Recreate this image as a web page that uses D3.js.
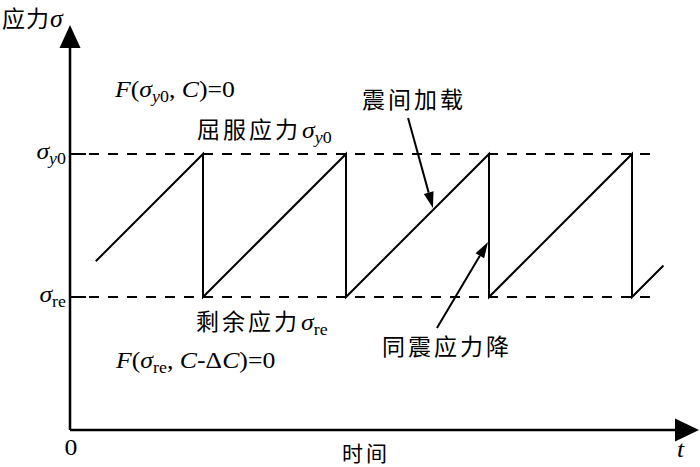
<!DOCTYPE html>
<html lang="zh">
<head>
  <meta charset="UTF-8">
  <title>应力-时间</title>
  <script src="https://d3js.org/d3.v7.min.js"></script>
  <style>
    body { margin: 0; background: #fff; }
    svg { display: block; }
    .cjk { font-family: "Noto Sans CJK SC", sans-serif; font-size: 23px; letter-spacing: 3px; }
    .math { font-family: "Liberation Serif", "DejaVu Serif", serif; font-size: 23px; }
  </style>
</head>
<body>
  <svg></svg>
  <script>
    // sawtooth: time in cycles, stress normalised (0 = σre, 1 = σy0)
    const cycleTimes = [-0.75, 0, 0, 1, 1, 2, 2, 3, 3, 3.22];
    const stressValues = [0.25, 1, 0, 1, 0, 1, 0, 1, 0, 0.22];

    // dashed reference levels
    const levelValues = [1, 0];
    const levelLabels = [
      [['σ', 'i'], ['y', 'si'], ['0', 's']],
      [['σ', 'i'], ['re', 's']]
    ];

    const axisMin = -0.93;
    const levelEnd = 3.17;

    // annotation arrows: [tail t, tail stress, head t, head stress]
    const loadArrow = [1.434, 1.252, 1.608, 0.622];
    const dropArrow = [1.636, -0.217, 1.993, 0.385];

    const width = 700, height = 467;
    const stretch = 1.12; // the original type is set a little wide

    const svg = d3.select('svg')
        .attr('width', width)
        .attr('height', height);

    const x = d3.scaleLinear().domain([0, 1]).range([203, 346]);
    const y = d3.scaleLinear().domain([0, 1]).range([297, 154]);

    const x0 = x(axisMin), y0 = y(axisMin);

    // rich text helper: segments [text, style], style: '' upright, 'i' italic, 's' sub, 'si' italic sub
    function richText(g, px, py, segs) {
      const t = g.append('text')
          .attr('class', 'math')
          .attr('transform', `translate(${px},${py}) scale(${stretch},1)`);
      let sub = false;
      segs.forEach(([s, st]) => {
        const isSub = !!st && st.includes('s');
        const ts = t.append('tspan').text(s);
        if (st && st.includes('i')) ts.style('font-style', 'italic');
        if (isSub) ts.style('font-size', '16px');
        if (isSub && !sub) ts.attr('dy', 5);
        if (!isSub && sub) ts.attr('dy', -5);
        sub = isSub;
      });
      return t;
    }

    // axes
    svg.append('line')
        .attr('x1', x0).attr('y1', y0)
        .attr('x2', x0).attr('y2', 44)
        .attr('stroke', '#000').attr('stroke-width', 2.5);
    svg.append('path')
        .attr('d', `M${x0},25 L${x0 - 10.5},48 L${x0 + 10.5},48 Z`)
        .attr('fill', '#000');

    svg.append('line')
        .attr('x1', x0).attr('y1', y0)
        .attr('x2', 680).attr('y2', y0)
        .attr('stroke', '#000').attr('stroke-width', 2.5);
    svg.append('path')
        .attr('d', `M699,${y0} L675,${y0 - 11.5} L675,${y0 + 11.5} Z`)
        .attr('fill', '#000');

    // levels
    levelValues.forEach((v, i) => {
      svg.append('line')
          .attr('x1', x0).attr('x2', x0 + 16)
          .attr('y1', y(v)).attr('y2', y(v))
          .attr('stroke', '#000').attr('stroke-width', 2);
      svg.append('line')
          .attr('x1', x0 + 19).attr('x2', x(levelEnd))
          .attr('y1', y(v)).attr('y2', y(v))
          .attr('stroke', '#000').attr('stroke-width', 2)
          .attr('stroke-dasharray', '10,9');
      richText(svg, x0 - 4, y(v) + 5, levelLabels[i]).attr('text-anchor', 'end');
    });

    // sawtooth
    const pts = cycleTimes.map((t, i) => [x(t), y(stressValues[i])]);
    svg.append('path')
        .attr('d', d3.line()(pts))
        .attr('fill', 'none')
        .attr('stroke', '#000')
        .attr('stroke-width', 2);

    // annotation arrows
    function arrow(a) {
      const x1 = x(a[0]), y1 = y(a[1]), x2 = x(a[2]), y2 = y(a[3]);
      const ang = Math.atan2(y2 - y1, x2 - x1);
      const len = 16, half = 5;
      const bx = x2 - len * Math.cos(ang), by = y2 - len * Math.sin(ang);
      svg.append('line')
          .attr('x1', x1).attr('y1', y1).attr('x2', bx).attr('y2', by)
          .attr('stroke', '#000').attr('stroke-width', 2);
      svg.append('path')
          .attr('d', `M${x2},${y2} L${bx + half * Math.sin(ang)},${by - half * Math.cos(ang)} L${bx - half * Math.sin(ang)},${by + half * Math.cos(ang)} Z`)
          .attr('fill', '#000');
    }
    arrow(loadArrow);
    arrow(dropArrow);

    // labels
    const yLab = svg.append('text').attr('x', 2).attr('y', 27);
    yLab.append('tspan').attr('class', 'cjk').style('letter-spacing', '1px').text('应力');
    yLab.append('tspan').attr('class', 'math')
        .style('font-style', 'italic').style('font-size', '26px').text('σ');

    richText(svg, 115, 97, [['F', 'i'], ['('], ['σ', 'i'], ['y', 'si'], ['0', 's'], [', '], ['C', 'i'], [')=0']]);
    richText(svg, 116, 368, [['F', 'i'], ['('], ['σ', 'i'], ['re', 's'], [', '], ['C', 'i'], ['-Δ'], ['C', 'i'], [')=0']]);

    svg.append('text').attr('class', 'cjk').attr('x', 197).attr('y', 138).text('屈服应力');
    richText(svg, 302, 138, [['σ', 'i'], ['y', 'si'], ['0', 's']]);

    svg.append('text').attr('class', 'cjk').attr('x', 196).attr('y', 330).text('剩余应力');
    richText(svg, 301, 330, [['σ', 'i'], ['re', 's']]);

    svg.append('text').attr('class', 'cjk').attr('x', 362).attr('y', 108).text('震间加载');
    svg.append('text').attr('class', 'cjk').attr('x', 382).attr('y', 355).text('同震应力降');
    svg.append('text').attr('class', 'cjk').attr('x', 342).attr('y', 461)
        .style('font-size', '21px').text('时间');

    richText(svg, x0 + 1, 455, [['0']]).attr('text-anchor', 'middle');
    richText(svg, 677, 457, [['t', 'i']]);
  </script>
</body>
</html>
